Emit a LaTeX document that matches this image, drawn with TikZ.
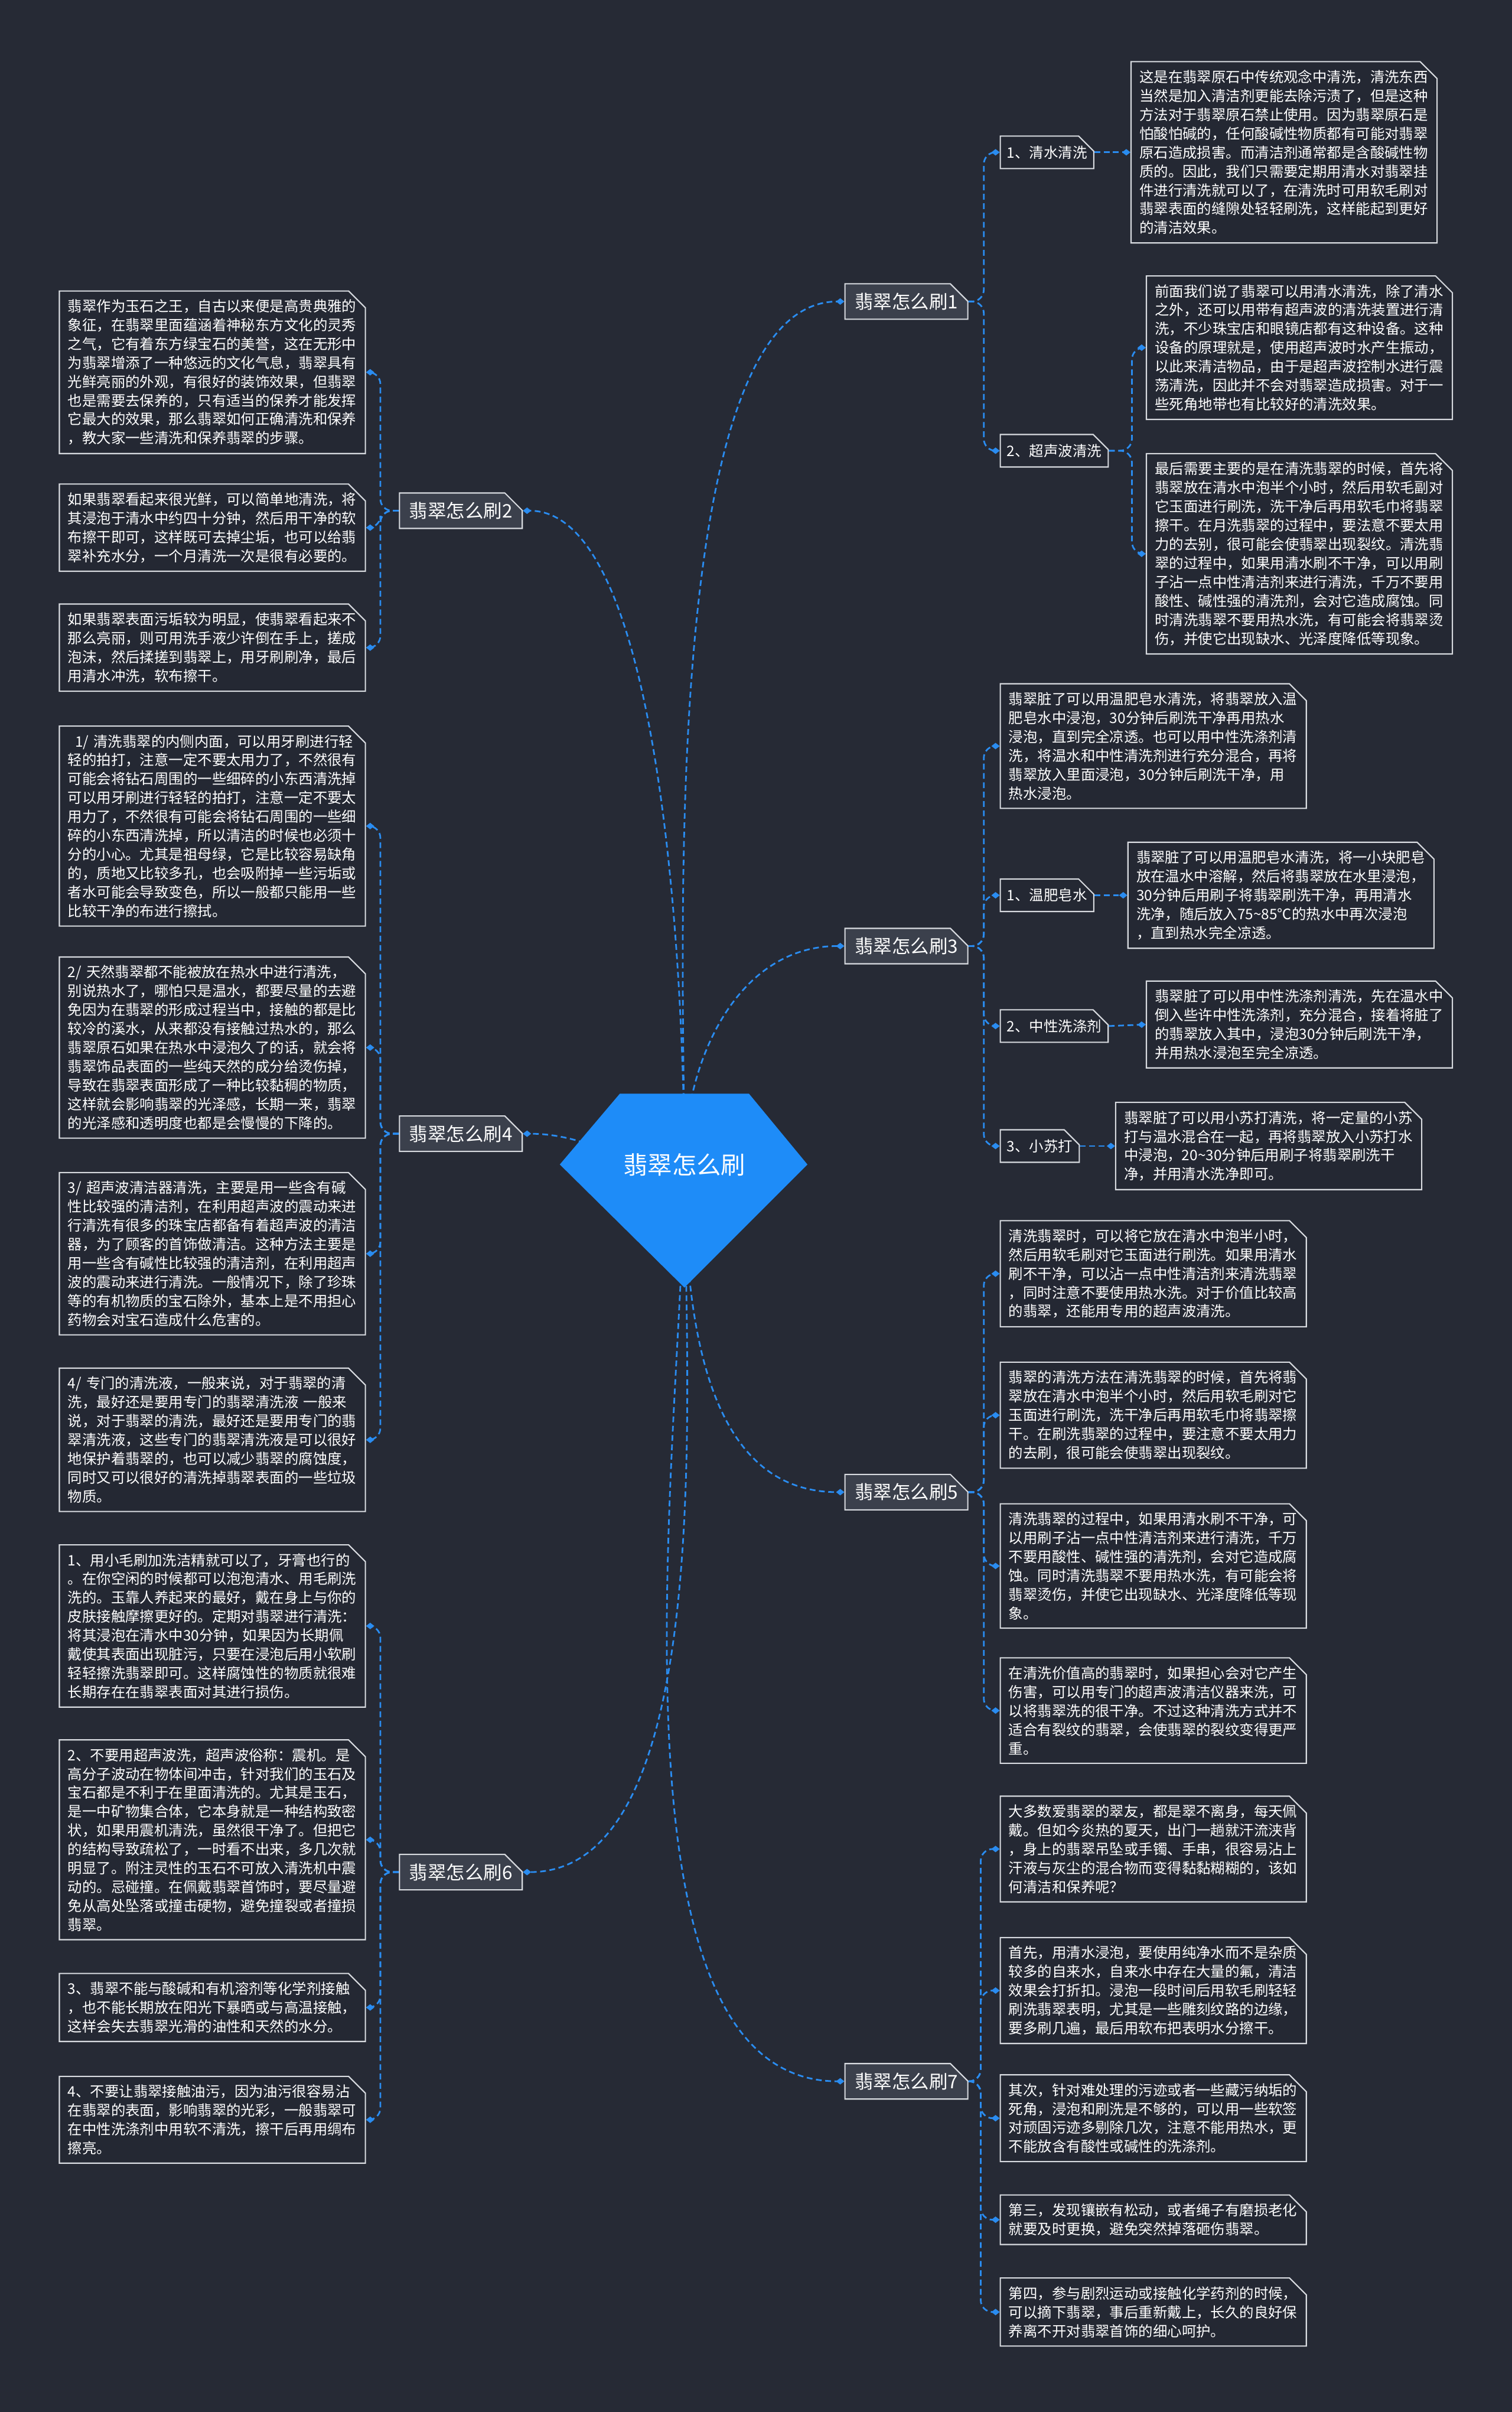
\documentclass[tikz,border=0pt]{standalone}
\usepackage{fontspec}
\setmainfont{Noto Sans CJK SC}
\usetikzlibrary{arrows.meta, positioning, shapes.misc, calc}
\definecolor{mapBg}{HTML}{262A35}
\definecolor{mapLeaf}{HTML}{242833}
\definecolor{mapBranch}{HTML}{3B404C}
\definecolor{mapEdge}{HTML}{D8DBE0}
\definecolor{mapLink}{HTML}{2A8CF0}
\definecolor{mapGem}{HTML}{1E8CF8}
\pgfdeclarelayer{paper}
\pgfdeclarelayer{links}
\pgfdeclarelayer{gem}
\pgfsetlayers{paper,links,gem,main}
\tikzset{
    x=0.26042mm,
    y=-0.26042mm,
    map_root/.style={
        text=white,
        font=\fontsize{11.8pt}{14pt}\selectfont
    },
    map_branch/.style={
        chamfered rectangle,
        chamfered rectangle corners=north east,
        chamfered rectangle sep=1.5mm,
        inner sep=0pt,
        minimum width=20.8mm,
        minimum height=6mm,
        draw=mapEdge,
        fill=mapBranch,
        line width=0.6pt,
        text=white,
        font=\fontsize{8.95pt}{10pt}\selectfont
    },
    map_sub/.style={
        chamfered rectangle,
        chamfered rectangle corners=north east,
        chamfered rectangle sep=1.43mm,
        inner sep=0pt,
        minimum height=5.5mm,
        draw=mapEdge,
        fill=mapLeaf,
        line width=0.6pt,
        text=white,
        font=\fontsize{6.95pt}{9.08pt}\selectfont
    },
    map_leaf/.style={
        map_sub,
        minimum height=0pt,
        text width=48.96mm,
        align=left
    },
    map_link/.style={
        -{Diamond[length=1.4mm, width=1.1mm]},
        draw=mapLink,
        line width=0.8pt,
        dash pattern=on 2.8pt off 1.7pt
    },
    map_sublink/.style={
        map_link,
        rounded corners=2mm
    }
}

\begin{document}
\begin{tikzpicture}

% --- Paper ---
\begin{pgfonlayer}{paper}
\fill[mapBg] (0,0) rectangle (983,1568);
\end{pgfonlayer}

% --- Root ---
\node[map_root] (Root) at (445,757) {翡翠怎么刷};
\begin{pgfonlayer}{gem}
\fill[mapGem] ($(Root.center)+(-42,-46)$) -- ($(Root.center)+(42,-46)$) -- ($(Root.center)+(80,0)$) -- ($(Root.center)+(0,80)$) -- ($(Root.center)+(-81,0)$) -- cycle;
\end{pgfonlayer}

% --- Branches ---
\node[map_branch, anchor=west] (Brush1) at (549,196) {翡翠怎么刷1};
\node[map_branch, anchor=east] (Brush2) at (340,332) {翡翠怎么刷2};
\node[map_branch, anchor=west] (Brush3) at (549,615) {翡翠怎么刷3};
\node[map_branch, anchor=east] (Brush4) at (340,737) {翡翠怎么刷4};
\node[map_branch, anchor=west] (Brush5) at (549,970) {翡翠怎么刷5};
\node[map_branch, anchor=east] (Brush6) at (340,1217) {翡翠怎么刷6};
\node[map_branch, anchor=west] (Brush7) at (549,1353) {翡翠怎么刷7};

% --- Brush 1 ---
\node[map_sub, anchor=west] (Water) at (650,99) {1、清水清洗};
\node[map_sub, anchor=west] (Ultra) at (650,293) {2、超声波清洗};
\node[map_leaf, anchor=west] (WaterText) at (735,99) {这是在翡翠原石中传统观念中清洗，清洗东西\\当然是加入清洁剂更能去除污渍了，但是这种\\方法对于翡翠原石禁止使用。因为翡翠原石是\\怕酸怕碱的，任何酸碱性物质都有可能对翡翠\\原石造成损害。而清洁剂通常都是含酸碱性物\\质的。因此，我们只需要定期用清水对翡翠挂\\件进行清洗就可以了，在清洗时可用软毛刷对\\翡翠表面的缝隙处轻轻刷洗，这样能起到更好\\的清洁效果。};
\node[map_leaf, anchor=west] (UltraText) at (745,226) {前面我们说了翡翠可以用清水清洗，除了清水\\之外，还可以用带有超声波的清洗装置进行清\\洗，不少珠宝店和眼镜店都有这种设备。这种\\设备的原理就是，使用超声波时水产生振动，\\以此来清洁物品，由于是超声波控制水进行震\\荡清洗，因此并不会对翡翠造成损害。对于一\\些死角地带也有比较好的清洗效果。};
\node[map_leaf, anchor=west] (UltraNote) at (745,360) {最后需要主要的是在清洗翡翠的时候，首先将\\翡翠放在清水中泡半个小时，然后用软毛副对\\它玉面进行刷洗，洗干净后再用软毛巾将翡翠\\擦干。在月洗翡翠的过程中，要法意不要太用\\力的去别，很可能会使翡翠出现裂纹。清洗翡\\翠的过程中，如果用清水刷不干净，可以用刷\\子沾一点中性清洁剂来进行清洗，千万不要用\\酸性、碱性强的清洗剂，会对它造成腐蚀。同\\时清洗翡翠不要用热水洗，有可能会将翡翠烫\\伤，并使它出现缺水、光泽度降低等现象。};

% --- Brush 2 ---
\node[map_leaf, anchor=east] (Intro) at (238,242) {翡翠作为玉石之王，自古以来便是高贵典雅的\\象征，在翡翠里面蕴涵着神秘东方文化的灵秀\\之气，它有着东方绿宝石的美誉，这在无形中\\为翡翠增添了一种悠远的文化气息，翡翠具有\\光鲜亮丽的外观，有很好的装饰效果，但翡翠\\也是需要去保养的，只有适当的保养才能发挥\\它最大的效果，那么翡翠如何正确清洗和保养\\，教大家一些清洗和保养翡翠的步骤。};
\node[map_leaf, anchor=east] (Bright) at (238,343) {如果翡翠看起来很光鲜，可以简单地清洗，将\\其浸泡于清水中约四十分钟，然后用干净的软\\布擦干即可，这样既可去掉尘垢，也可以给翡\\翠补充水分，一个月清洗一次是很有必要的。};
\node[map_leaf, anchor=east] (Dirty) at (238,421) {如果翡翠表面污垢较为明显，使翡翠看起来不\\那么亮丽，则可用洗手液少许倒在手上，搓成\\泡沫，然后揉搓到翡翠上，用牙刷刷净，最后\\用清水冲洗，软布擦干。};

% --- Brush 3 ---
\node[map_leaf, anchor=west] (Soak) at (650,485) {翡翠脏了可以用温肥皂水清洗，将翡翠放入温\\肥皂水中浸泡，30分钟后刷洗干净再用热水\\浸泡，直到完全凉透。也可以用中性洗涤剂清\\洗，将温水和中性清洗剂进行充分混合，再将\\翡翠放入里面浸泡，30分钟后刷洗干净，用\\热水浸泡。};
\node[map_sub, anchor=west] (Soap) at (650,582) {1、温肥皂水};
\node[map_sub, anchor=west] (Neutral) at (650,667) {2、中性洗涤剂};
\node[map_sub, anchor=west] (Soda) at (650,745) {3、小苏打};
\node[map_leaf, anchor=west] (SoapText) at (733,582) {翡翠脏了可以用温肥皂水清洗，将一小块肥皂\\放在温水中溶解，然后将翡翠放在水里浸泡，\\30分钟后用刷子将翡翠刷洗干净，再用清水\\洗净，随后放入75\textasciitilde 85℃的热水中再次浸泡\\，直到热水完全凉透。};
\node[map_leaf, anchor=west] (NeutralText) at (745,666) {翡翠脏了可以用中性洗涤剂清洗，先在温水中\\倒入些许中性洗涤剂，充分混合，接着将脏了\\的翡翠放入其中，浸泡30分钟后刷洗干净，\\并用热水浸泡至完全凉透。};
\node[map_leaf, anchor=west] (SodaText) at (725,745) {翡翠脏了可以用小苏打清洗，将一定量的小苏\\打与温水混合在一起，再将翡翠放入小苏打水\\中浸泡，20\textasciitilde 30分钟后用刷子将翡翠刷洗干\\净，并用清水洗净即可。};

% --- Brush 4 ---
\node[map_leaf, anchor=east] (Inner) at (238,537) {\hspace*{0.5em}1/ 清洗翡翠的内侧内面，可以用牙刷进行轻\\轻的拍打，注意一定不要太用力了，不然很有\\可能会将钻石周围的一些细碎的小东西清洗掉\\可以用牙刷进行轻轻的拍打，注意一定不要太\\用力了，不然很有可能会将钻石周围的一些细\\碎的小东西清洗掉，所以清洁的时候也必须十\\分的小心。尤其是祖母绿，它是比较容易缺角\\的，质地又比较多孔，也会吸附掉一些污垢或\\者水可能会导致变色，所以一般都只能用一些\\比较干净的布进行擦拭。};
\node[map_leaf, anchor=east] (HotWater) at (238,681) {2/ 天然翡翠都不能被放在热水中进行清洗，\\别说热水了，哪怕只是温水，都要尽量的去避\\免因为在翡翠的形成过程当中，接触的都是比\\较冷的溪水，从来都没有接触过热水的，那么\\翡翠原石如果在热水中浸泡久了的话，就会将\\翡翠饰品表面的一些纯天然的成分给烫伤掉，\\导致在翡翠表面形成了一种比较黏稠的物质，\\这样就会影响翡翠的光泽感，长期一来，翡翠\\的光泽感和透明度也都是会慢慢的下降的。};
\node[map_leaf, anchor=east] (Cleaner) at (238,815) {3/ 超声波清洁器清洗，主要是用一些含有碱\\性比较强的清洁剂，在利用超声波的震动来进\\行清洗有很多的珠宝店都备有着超声波的清洁\\器，为了顾客的首饰做清洁。这种方法主要是\\用一些含有碱性比较强的清洁剂，在利用超声\\波的震动来进行清洗。一般情况下，除了珍珠\\等的有机物质的宝石除外，基本上是不用担心\\药物会对宝石造成什么危害的。};
\node[map_leaf, anchor=east] (Liquid) at (238,936) {4/ 专门的清洗液，一般来说，对于翡翠的清\\洗，最好还是要用专门的翡翠清洗液 一般来\\说，对于翡翠的清洗，最好还是要用专门的翡\\翠清洗液，这些专门的翡翠清洗液是可以很好\\地保护着翡翠的，也可以减少翡翠的腐蚀度，\\同时又可以很好的清洗掉翡翠表面的一些垃圾\\物质。};

% --- Brush 5 ---
\node[map_leaf, anchor=west] (HalfHour) at (650,828) {清洗翡翠时，可以将它放在清水中泡半小时，\\然后用软毛刷对它玉面进行刷洗。如果用清水\\刷不干净，可以沾一点中性清洁剂来清洗翡翠\\，同时注意不要使用热水洗。对于价值比较高\\的翡翠，还能用专用的超声波清洗。};
\node[map_leaf, anchor=west] (Method) at (650,920) {翡翠的清洗方法在清洗翡翠的时候，首先将翡\\翠放在清水中泡半个小时，然后用软毛刷对它\\玉面进行刷洗，洗干净后再用软毛巾将翡翠擦\\干。在刷洗翡翠的过程中，要注意不要太用力\\的去刷，很可能会使翡翠出现裂纹。};
\node[map_leaf, anchor=west] (Process) at (650,1018) {清洗翡翠的过程中，如果用清水刷不干净，可\\以用刷子沾一点中性清洁剂来进行清洗，千万\\不要用酸性、碱性强的清洗剂，会对它造成腐\\蚀。同时清洗翡翠不要用热水洗，有可能会将\\翡翠烫伤，并使它出现缺水、光泽度降低等现\\象。};
\node[map_leaf, anchor=west] (Valuable) at (650,1112) {在清洗价值高的翡翠时，如果担心会对它产生\\伤害，可以用专门的超声波清洁仪器来洗，可\\以将翡翠洗的很干净。不过这种清洗方式并不\\适合有裂纹的翡翠，会使翡翠的裂纹变得更严\\重。};

% --- Brush 6 ---
\node[map_leaf, anchor=east] (SmallBrush) at (238,1057) {1、用小毛刷加洗洁精就可以了，牙膏也行的\\。在你空闲的时候都可以泡泡清水、用毛刷洗\\洗的。玉靠人养起来的最好，戴在身上与你的\\皮肤接触摩擦更好的。定期对翡翠进行清洗：\\将其浸泡在清水中30分钟，如果因为长期佩\\戴使其表面出现脏污，只要在浸泡后用小软刷\\轻轻擦洗翡翠即可。这样腐蚀性的物质就很难\\长期存在在翡翠表面对其进行损伤。};
\node[map_leaf, anchor=east] (NoUltra) at (238,1196) {2、不要用超声波洗，超声波俗称：震机。是\\高分子波动在物体间冲击，针对我们的玉石及\\宝石都是不利于在里面清洗的。尤其是玉石，\\是一中矿物集合体，它本身就是一种结构致密\\状，如果用震机清洗，虽然很干净了。但把它\\的结构导致疏松了，一时看不出来，多几次就\\明显了。附注灵性的玉石不可放入清洗机中震\\动的。忌碰撞。在佩戴翡翠首饰时，要尽量避\\免从高处坠落或撞击硬物，避免撞裂或者撞损\\翡翠。};
\node[map_leaf, anchor=east] (NoAcid) at (238,1305) {3、翡翠不能与酸碱和有机溶剂等化学剂接触\\，也不能长期放在阳光下暴晒或与高温接触，\\这样会失去翡翠光滑的油性和天然的水分。};
\node[map_leaf, anchor=east] (NoOil) at (238,1378) {4、不要让翡翠接触油污，因为油污很容易沾\\在翡翠的表面，影响翡翠的光彩，一般翡翠可\\在中性洗涤剂中用软不清洗，擦干后再用绸布\\擦亮。};

% --- Brush 7 ---
\node[map_leaf, anchor=west] (Summer) at (650,1202) {大多数爱翡翠的翠友，都是翠不离身，每天佩\\戴。但如今炎热的夏天，出门一趟就汗流浃背\\，身上的翡翠吊坠或手镯、手串，很容易沾上\\汗液与灰尘的混合物而变得黏黏糊糊的，该如\\何清洁和保养呢？};
\node[map_leaf, anchor=west] (First) at (650,1294) {首先，用清水浸泡，要使用纯净水而不是杂质\\较多的自来水，自来水中存在大量的氟，清洁\\效果会打折扣。浸泡一段时间后用软毛刷轻轻\\刷洗翡翠表明，尤其是一些雕刻纹路的边缘，\\要多刷几遍，最后用软布把表明水分擦干。};
\node[map_leaf, anchor=west] (Second) at (650,1377) {其次，针对难处理的污迹或者一些藏污纳垢的\\死角，浸泡和刷洗是不够的，可以用一些软签\\对顽固污迹多剔除几次，注意不能用热水，更\\不能放含有酸性或碱性的洗涤剂。};
\node[map_leaf, anchor=west] (Third) at (650,1443) {第三，发现镶嵌有松动，或者绳子有磨损老化\\就要及时更换，避免突然掉落砸伤翡翠。};
\node[map_leaf, anchor=west] (Fourth) at (650,1503) {第四，参与剧烈运动或接触化学药剂的时候，\\可以摘下翡翠，事后重新戴上，长久的良好保\\养离不开对翡翠首饰的细心呵护。};

% --- Edges ---
\begin{pgfonlayer}{links}
\draw[map_link] (Root.center) to[out=90, in=180, looseness=0.55] (Brush1.west);
\draw[map_link] (Root.center) to[out=90, in=0, looseness=0.55] (Brush2.east);
\draw[map_link] (Root.center) to[out=90, in=180] (Brush3.west);
\draw[map_link] (Root.center) to[out=180, in=0] (Brush4.east);
\draw[map_link] (Root.center) to[out=270, in=180] (Brush5.west);
\draw[map_link] (Root.center) to[out=270, in=0, looseness=0.7] (Brush6.east);
\draw[map_link] (Root.center) to[out=270, in=180, looseness=0.7] (Brush7.west);

\draw[map_sublink] (Brush1.east) -- ++(10,0) |- (Water.west);
\draw[map_sublink] (Brush1.east) -- ++(10,0) |- (Ultra.west);
\draw[map_sublink] (Water.east) -- (WaterText.west);
\draw[map_sublink] (Ultra.east) -- ++(15,0) |- (UltraText.west);
\draw[map_sublink] (Ultra.east) -- ++(15,0) |- (UltraNote.west);

\draw[map_sublink] (Brush2.west) -- ++(-12,0) |- (Intro.east);
\draw[map_sublink] (Brush2.west) -- ++(-12,0) |- (Bright.east);
\draw[map_sublink] (Brush2.west) -- ++(-12,0) |- (Dirty.east);

\draw[map_sublink] (Brush3.east) -- ++(10,0) |- (Soak.west);
\draw[map_sublink] (Brush3.east) -- ++(10,0) |- (Soap.west);
\draw[map_sublink] (Brush3.east) -- ++(10,0) |- (Neutral.west);
\draw[map_sublink] (Brush3.east) -- ++(10,0) |- (Soda.west);
\draw[map_sublink] (Soap.east) -- (SoapText.west);
\draw[map_sublink] (Neutral.east) -- (NeutralText.west);
\draw[map_sublink] (Soda.east) -- (SodaText.west);

\draw[map_sublink] (Brush4.west) -- ++(-12,0) |- (Inner.east);
\draw[map_sublink] (Brush4.west) -- ++(-12,0) |- (HotWater.east);
\draw[map_sublink] (Brush4.west) -- ++(-12,0) |- (Cleaner.east);
\draw[map_sublink] (Brush4.west) -- ++(-12,0) |- (Liquid.east);

\draw[map_sublink] (Brush5.east) -- ++(10,0) |- (HalfHour.west);
\draw[map_sublink] (Brush5.east) -- ++(10,0) |- (Method.west);
\draw[map_sublink] (Brush5.east) -- ++(10,0) |- (Process.west);
\draw[map_sublink] (Brush5.east) -- ++(10,0) |- (Valuable.west);

\draw[map_sublink] (Brush6.west) -- ++(-12,0) |- (SmallBrush.east);
\draw[map_sublink] (Brush6.west) -- ++(-12,0) |- (NoUltra.east);
\draw[map_sublink] (Brush6.west) -- ++(-12,0) |- (NoAcid.east);
\draw[map_sublink] (Brush6.west) -- ++(-12,0) |- (NoOil.east);

\draw[map_sublink] (Brush7.east) -- ++(8,0) |- (Summer.west);
\draw[map_sublink] (Brush7.east) -- ++(8,0) |- (First.west);
\draw[map_sublink] (Brush7.east) -- ++(8,0) |- (Second.west);
\draw[map_sublink] (Brush7.east) -- ++(8,0) |- (Third.west);
\draw[map_sublink] (Brush7.east) -- ++(8,0) |- (Fourth.west);
\end{pgfonlayer}

\end{tikzpicture}
\end{document}
